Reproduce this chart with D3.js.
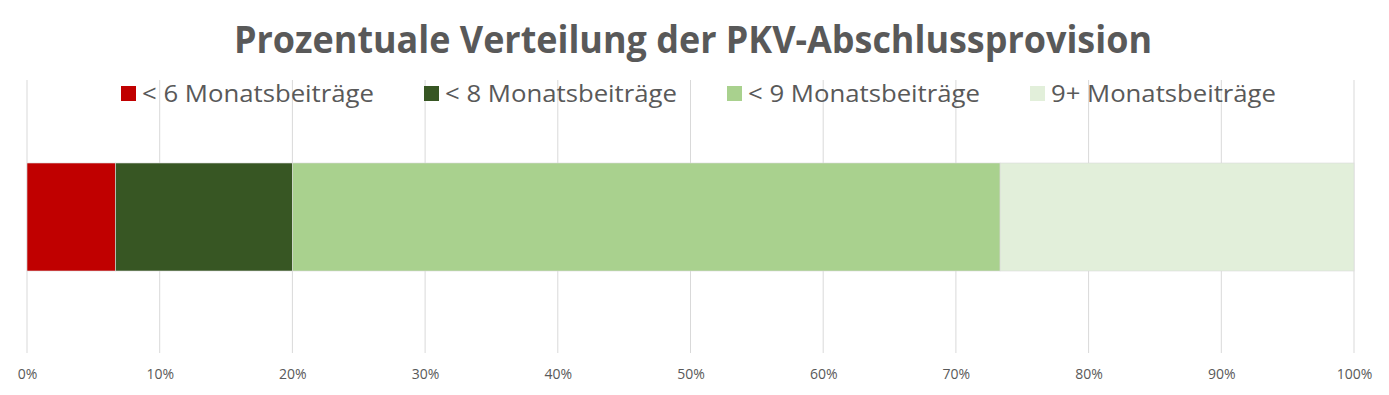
<!DOCTYPE html>
<html>
<head>
<meta charset="utf-8">
<script src="https://cdn.jsdelivr.net/npm/d3@7"></script>
<style>
  body { margin: 0; background: #fff; }
  text { font-family: "Open Sans", sans-serif; fill: #595959; }
</style>
</head>
<body>
<div class="container"></div>
<script>
const categories = ["< 6 Monatsbeiträge", "< 8 Monatsbeiträge", "< 9 Monatsbeiträge", "9+ Monatsbeiträge"];
const values = [6.67, 13.33, 53.33, 26.67];
const colors = ["#C00000", "#375623", "#A9D18E", "#E2EFDA"];
const ticks = [0, 10, 20, 30, 40, 50, 60, 70, 80, 90, 100];

const width = 1389;
const height = 395;
const margin = {top: 80, right: 35, bottom: 42, left: 27};

const svg = d3.select(".container")
              .append("svg")
                .attr("width", width)
                .attr("height", height);

const x = d3.scaleLinear()
            .domain([0, 100])
            .range([margin.left, width - margin.right]);

// gridlines
svg.append("g")
   .selectAll("line")
   .data(ticks)
   .enter()
   .append("line")
     .attr("x1", d => x(d))
     .attr("x2", d => x(d))
     .attr("y1", margin.top)
     .attr("y2", height - margin.bottom)
     .attr("stroke", "#d9d9d9")
     .attr("stroke-width", 1);

// stacked segments
let acc = 0;
const segs = values.map((v, i) => {
  const s = {start: acc, end: acc + v, color: colors[i]};
  acc += v;
  return s;
});

svg.append("g")
   .selectAll("rect")
   .data(segs)
   .enter()
   .append("rect")
     .attr("x", d => x(d.start))
     .attr("y", 163)
     .attr("width", d => x(d.end) - x(d.start))
     .attr("height", 108)
     .attr("fill", d => d.color)
     .attr("stroke", "#d9d9d9")
     .attr("stroke-width", 0.6);

// axis labels
const axis = d3.axisBottom(x)
               .tickValues(ticks)
               .tickFormat(d => d + "%")
               .tickSize(0)
               .tickPadding(0);

const gAxis = svg.append("g")
   .attr("transform", "translate(0, 369)")
   .call(axis);
gAxis.select(".domain").remove();
gAxis.selectAll("text")
     .style("font-family", "'Open Sans', sans-serif")
     .style("font-size", "14px")
     .attr("fill", "#595959");

// title
svg.append("text")
   .attr("x", 693)
   .attr("y", 53)
   .attr("text-anchor", "middle")
   .attr("textLength", 918)
   .attr("lengthAdjust", "spacingAndGlyphs")
   .style("font-size", "38px")
   .style("font-weight", "bold")
   .text("Prozentuale Verteilung der PKV-Abschlussprovision");

// legend
const legend = svg.append("g")
                  .attr("transform", "translate(121, 86)");

const items = legend.selectAll(".item")
                    .data(categories)
                    .enter()
                    .append("g")
                    .attr("transform", (d, i) => "translate(" + (i * 303) + ",0)");

items.append("rect")
     .attr("width", 15)
     .attr("height", 15)
     .attr("fill", (d, i) => colors[i]);

items.append("text")
     .attr("x", 21)
     .attr("y", 16)
     .attr("textLength", (d, i) => i == 3 ? 225 : 232)
     .attr("lengthAdjust", "spacingAndGlyphs")
     .style("font-size", "24px")
     .text(d => d);
</script>
</body>
</html>
